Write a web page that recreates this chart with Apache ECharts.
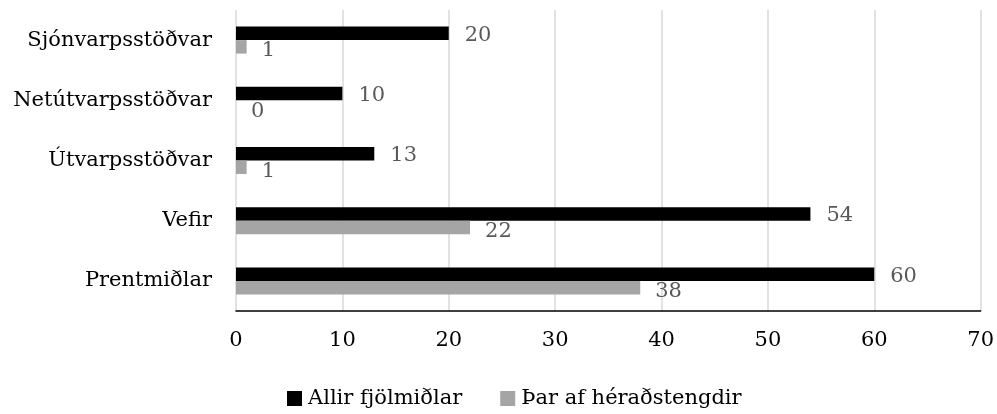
<!DOCTYPE html>
<html><head><meta charset="utf-8">
<script src="https://cdn.jsdelivr.net/npm/echarts@6/dist/echarts.min.js"></script>
<style>html,body{margin:0;padding:0;background:#fff}#c{width:997px;height:414px}</style>
</head><body><div id="c"></div>
<script>
const categories = ['Sjónvarpsstöðvar', 'Netútvarpsstöðvar', 'Útvarpsstöðvar', 'Vefir', 'Prentmiðlar'];
const allirFjolmidlar = [20, 10, 13, 54, 60];
const tharAfHeradstengdir = [1, 0, 1, 22, 38];
const seriesNames = ['Allir fjölmiðlar', 'Þar af héraðstengdir'];
const xTicks = { min: 0, max: 70, interval: 10 };

const FONT = 'DejaVu Serif';
const FS = 21;
const chart = echarts.init(document.getElementById('c'), null, { renderer: 'canvas' });
chart.setOption({
  animation: false,
  backgroundColor: '#ffffff',
  textStyle: { fontFamily: FONT },
  grid: { left: 236, right: 14, top: 10, bottom: 103, containLabel: false },
  legend: {
    data: seriesNames,
    left: 287, top: 388, padding: 0,
    itemWidth: 15, itemHeight: 15, itemGap: 38,
    textStyle: { fontFamily: FONT, fontSize: FS, color: '#000', padding: [0, 0, 0, 1] },
    icon: 'rect'
  },
  xAxis: {
    type: 'value', min: xTicks.min, max: xTicks.max, interval: xTicks.interval,
    axisLine: { show: true, onZero: false, lineStyle: { color: '#000', width: 1.5 } },
    axisTick: { show: false },
    axisLabel: { fontFamily: FONT, fontSize: FS, color: '#000', margin: 19 },
    splitLine: { show: true, showMinLine: true, showMaxLine: true, lineStyle: { color: '#d9d9d9', width: 1.5 } }
  },
  yAxis: {
    type: 'category', data: categories, inverse: true,
    axisLine: { show: false }, axisTick: { show: false },
    axisLabel: { fontFamily: FONT, fontSize: FS, color: '#000', margin: 24 }
  },
  series: [
    {
      name: seriesNames[0], type: 'bar', data: allirFjolmidlar,
      barWidth: 13.5, barGap: '0%',
      itemStyle: { color: '#000000' },
      label: { show: true, position: 'right', distance: 16, offset: [0, 2], fontFamily: FONT, fontSize: FS, color: '#595959' }
    },
    {
      name: seriesNames[1], type: 'bar', data: tharAfHeradstengdir,
      barWidth: 13.5,
      itemStyle: { color: '#a5a5a5' },
      label: { show: true, position: 'right', distance: 15, offset: [0, 4], fontFamily: FONT, fontSize: FS, color: '#595959' }
    }
  ]
});
</script></body></html>
